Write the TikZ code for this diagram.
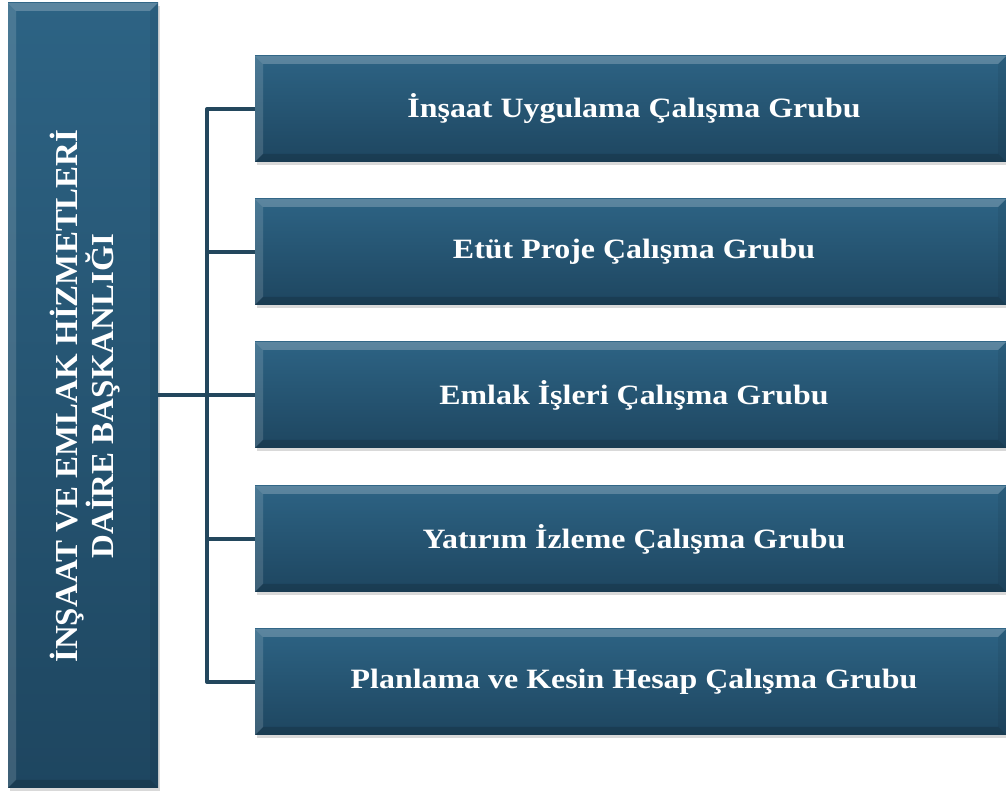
\documentclass[tikz,border=0pt]{standalone}
\usepackage{fontspec}
\setmainfont{Liberation Serif}
\newfontfamily\grpfont[FakeStretch=1.14]{Liberation Serif}
\newfontfamily\headfont[FakeStretch=1.03]{Liberation Serif}
\usetikzlibrary{shadows}

\definecolor{boxtop}{HTML}{2D6384}
\definecolor{boxbot}{HTML}{1E4660}
\definecolor{lineblue}{HTML}{23475D}

\tikzset{
  bevel/.style={path picture={
    \fill[white,opacity=.22] (path picture bounding box.north west) -- (path picture bounding box.north east)
      -- ([shift={(-8pt,-8pt)}]path picture bounding box.north east) -- ([shift={(8pt,-8pt)}]path picture bounding box.north west) -- cycle;
    \fill[white,opacity=.14] (path picture bounding box.north west) -- ([shift={(8pt,-8pt)}]path picture bounding box.north west)
      -- ([shift={(8pt,8pt)}]path picture bounding box.south west) -- (path picture bounding box.south west) -- cycle;
    \fill[black,opacity=.15] (path picture bounding box.south west) -- ([shift={(8pt,8pt)}]path picture bounding box.south west)
      -- ([shift={(-8pt,8pt)}]path picture bounding box.south east) -- (path picture bounding box.south east) -- cycle;
    \fill[black,opacity=.06] (path picture bounding box.north east) -- ([shift={(-8pt,-8pt)}]path picture bounding box.north east)
      -- ([shift={(-8pt,8pt)}]path picture bounding box.south east) -- (path picture bounding box.south east) -- cycle;
  }},
  grp/.style={top color=boxtop, bottom color=boxbot, bevel, inner sep=0pt,
    minimum width=751pt, minimum height=106pt, text=white,
    font=\grpfont\bfseries\fontsize{28}{30}\selectfont,
    drop shadow={opacity=.3, shadow xshift=2pt, shadow yshift=-3pt}},
  head/.style={top color=boxtop, bottom color=boxbot, bevel, inner sep=0pt,
    minimum width=150pt, minimum height=785pt,
    drop shadow={opacity=.3, shadow xshift=2pt, shadow yshift=-3pt}},
  conn/.style={draw=lineblue, line width=4pt, line join=round}
}

\begin{document}
\begin{tikzpicture}[x=1pt,y=1pt]
\useasboundingbox (0,0) rectangle (1006,794);

\node[head] (head) at (83,398.5) {};
\node[rotate=90, align=center, text=white, font=\headfont\bfseries\fontsize{32}{33}\selectfont] (htxt) at (85,398)
  {İNŞAAT VE EMLAK HİZMETLERİ\\DAİRE BAŞKANLIĞI};

\node[grp] (g1) at (630.5,685) {\hspace{7pt}İnşaat Uygulama Çalışma Grubu};
\node[grp] (g2) at (630.5,542) {\hspace{7pt}Etüt Proje Çalışma Grubu};
\node[grp] (g3) at (630.5,399) {\hspace{7pt}Emlak İşleri Çalışma Grubu};
\node[grp] (g4) at (630.5,255) {\hspace{7pt}Yatırım İzleme Çalışma Grubu};
\node[grp] (g5) at (630.5,112) {\hspace{7pt}Planlama ve Kesin Hesap Çalışma Grubu};

% bus
\coordinate (bt) at (207,685);
\coordinate (bb) at (207,112);
\draw[conn] (g1.west) -- (bt) -- (bb) -- (g5.west);
\foreach \i in {2,3,4}
  \draw[conn] (g\i.west) -- (bt |- g\i.west);
\draw[conn] (head.east |- g3.west) -- (g3.west);
\end{tikzpicture}
\end{document}
